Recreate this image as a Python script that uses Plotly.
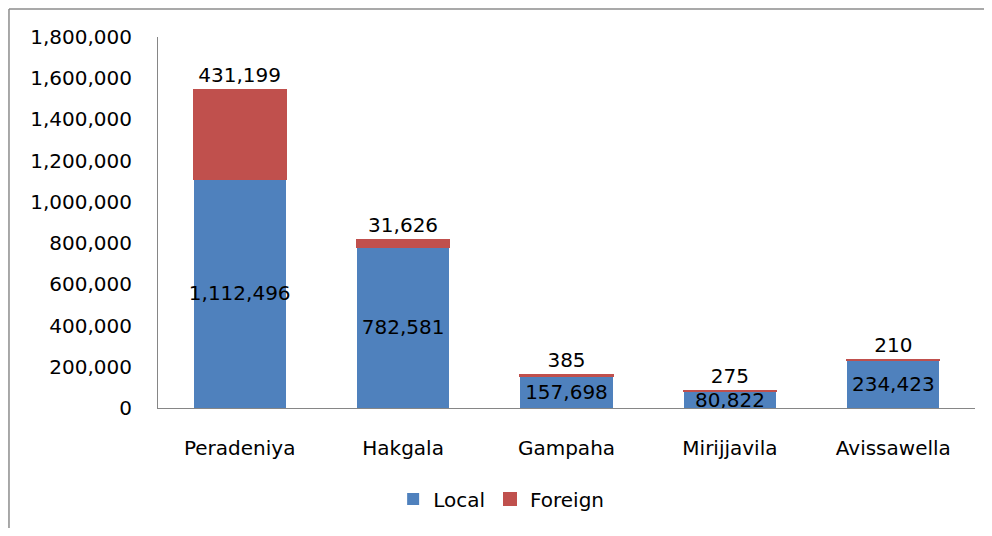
import plotly.graph_objects as go

categories = ["Peradeniya", "Hakgala", "Gampaha", "Mirijjavila", "Avissawella"]
local = [1112496, 782581, 157698, 80822, 234423]
foreign = [431199, 31626, 385, 275, 210]
y_ticks = list(range(0, 1800001, 200000))

FONT = "DejaVu Sans"
fig = go.Figure()
fig.add_trace(go.Bar(
    x=categories, y=local, name="Local",
    marker=dict(color="#4F81BD", line=dict(width=0)),
    text=[f"{v:,}" for v in local], textposition="inside", textangle=0,
    insidetextanchor="middle", constraintext="none",
    textfont=dict(family=FONT, size=20, color="black"),
))
fig.add_trace(go.Bar(
    x=categories, y=foreign, name="Foreign",
    marker=dict(color="#C0504D", line=dict(color="#C0504D", width=2)),
    text=[f"{v:,}" for v in foreign], textposition="outside", textangle=0,
    constraintext="none", cliponaxis=False,
    textfont=dict(family=FONT, size=20, color="black"),
))
border = dict(color="#8c8c8c", width=1.5)
fig.update_layout(
    barmode="stack", bargap=0.435,
    width=976, height=520,
    margin=dict(l=150, r=9, t=29, b=120, autoexpand=False),
    paper_bgcolor="white", plot_bgcolor="white",
    font=dict(family=FONT, size=20, color="black"),
    legend=dict(orientation="h", x=0.42, xanchor="center", y=-0.245, yanchor="middle",
                font=dict(family=FONT, size=20), itemwidth=30, traceorder="normal"),
    showlegend=True,
    shapes=[
        dict(type="line", xref="paper", yref="paper",
             x0=-0.1824, x1=1.1, y0=1.0755, y1=1.0755, line=border, layer="below"),
        dict(type="line", xref="paper", yref="paper",
             x0=-0.1824, x1=-0.1824, y0=-0.4, y1=1.0755, line=border, layer="below"),
    ],
)
fig.update_yaxes(range=[0, 1800000], tickvals=y_ticks, tickformat=",",
                 showgrid=False, showline=True, linecolor="#868686", linewidth=1,
                 ticks="", ticklabelstandoff=21, zeroline=False,
                 tickfont=dict(family=FONT, size=20))
fig.update_xaxes(showline=True, linecolor="#868686", linewidth=1, ticks="",
                 ticklabelstandoff=22, tickfont=dict(family=FONT, size=20))
fig.write_html("out.html")
